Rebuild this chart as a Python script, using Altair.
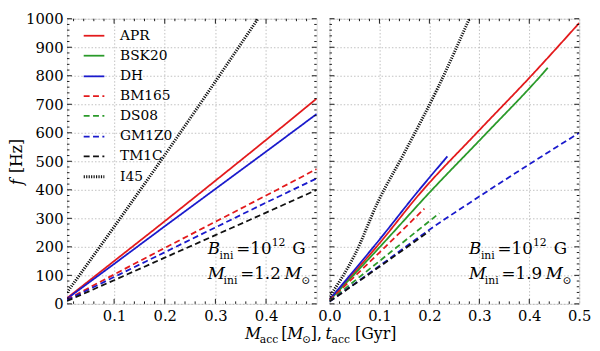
import altair as alt
import pandas as pd
import numpy as np

# ---------------- data ----------------
series_names = ["APR", "BSK20", "DH", "BM165", "DS08", "GM1Z0", "TM1C", "I45"]
series_colors = ["#e31a1c", "#2a9a2a", "#1a1acc", "#e31a1c", "#2a9a2a", "#1a1acc", "#111111", "#111111"]
series_styles = ["solid", "solid", "solid", "dashed", "dashed", "dashed", "dashed", "dotted"]

# Left panel: M_ini = 1.2 Msun, x = M_acc [Msun]
left_APR_m = [0.007, 0.1, 0.2, 0.3, 0.4, 0.5]
left_APR_f = [20, 150, 290, 432, 575, 720]
left_DH_m = [0.007, 0.1, 0.2, 0.3, 0.4, 0.5]
left_DH_f = [18, 140, 272, 403, 534, 666]
left_BM165_m = [0.007, 0.1, 0.2, 0.3, 0.4, 0.5]
left_BM165_f = [15, 103, 196, 288, 380, 473]
left_GM1Z0_m = [0.007, 0.1, 0.2, 0.3, 0.4, 0.5]
left_GM1Z0_f = [13, 94, 181, 268, 355, 440]
left_TM1C_m = [0.007, 0.1, 0.2, 0.3, 0.4, 0.5]
left_TM1C_f = [10, 83, 162, 241, 320, 400]
left_I45_m = [0.007, 0.1, 0.2, 0.3, 0.384]
left_I45_f = [40, 270, 522, 780, 1000]

# Right panel: M_ini = 1.9 Msun
right_APR_m = [0.0, 0.1, 0.18, 0.295, 0.404, 0.5]
right_APR_f = [15, 212, 385, 600, 800, 985]
right_DH_m = [0.0, 0.1, 0.175, 0.236]
right_DH_f = [15, 225, 390, 517]
right_BSK20_m = [0.0, 0.1, 0.2, 0.315, 0.423, 0.437]
right_BSK20_f = [12, 198, 390, 600, 800, 828]
right_BM165_m = [0.0, 0.1, 0.19]
right_BM165_f = [12, 180, 334]
right_DS08_m = [0.0, 0.1, 0.22]
right_DS08_f = [10, 150, 318]
right_GM1Z0_m = [0.0, 0.1, 0.2, 0.31, 0.5]
right_GM1Z0_f = [8, 133, 260, 388, 600]
right_TM1C_m = [0.0, 0.1, 0.2]
right_TM1C_f = [8, 130, 255]
right_I45_m = [0.0, 0.05, 0.098, 0.15, 0.217, 0.28]
right_I45_f = [25, 170, 361, 530, 758, 1000]

y_major = [0, 100, 200, 300, 400, 500, 600, 700, 800, 900, 1000]
left_x_labels = [0.1, 0.2, 0.3, 0.4]
right_x_labels = [0.0, 0.1, 0.2, 0.3, 0.4, 0.5]

# ---------------- layout ----------------
W, H = 254, 290
FONT = "DejaVu Serif"

line_names = series_names[:-1]
line_colors = series_colors[:-1]
line_dash = [[1, 0] if s == "solid" else [6, 3.5] for s in series_styles[:-1]]

AXIS_STYLE = dict(labelFont=FONT, labelFontSize=15, labelColor="black",
                  gridColor="#b0b0b0", gridDash=[1.5, 2], gridWidth=0.8,
                  grid=True, ticks=False, domain=False, title=None, labelFlush=False)


def build_df(d):
    rows = []
    for name, (ms, fs) in d.items():
        for i, (m, f) in enumerate(zip(ms, fs)):
            rows.append({"series": name, "m": m, "f": f, "i": i})
    return pd.DataFrame(rows)


def panel(data, xdomain, xlabels, x_major, x_minor, show_y, ann_m, mass_text, extra=None):
    xs = alt.Scale(domain=xdomain, nice=False, zero=False)
    ys = alt.Scale(domain=[0, 1000], nice=False, zero=False)
    x_axis = alt.Axis(values=xlabels, format=".1f", labelPadding=5, **AXIS_STYLE)
    y_axis = alt.Axis(values=y_major, format="d", labels=show_y, labelPadding=4, **AXIS_STYLE)

    def X(field):
        return alt.X(field, scale=xs, axis=x_axis)

    def Y(field):
        return alt.Y(field, scale=ys, axis=y_axis)

    df = build_df({k: v for k, v in data.items() if k != "I45"})
    lines = alt.Chart(df).mark_line(clip=True, strokeWidth=1.8, interpolate="monotone").encode(
        x=X("m:Q"), y=Y("f:Q"),
        color=alt.Color("series:N", scale=alt.Scale(domain=line_names, range=line_colors), legend=None),
        strokeDash=alt.StrokeDash("series:N", scale=alt.Scale(domain=line_names, range=line_dash), legend=None),
        order="i:Q",
    )
    i45 = build_df({"I45": data["I45"]})
    dotted = alt.Chart(i45).mark_line(clip=True, strokeWidth=3, strokeDash=[1.2, 1.3], color="#111111",
                                      interpolate="monotone").encode(
        x=X("m:Q"), y=Y("f:Q"), order="i:Q")
    layers = [lines, dotted]

    # inward ticks on all four sides
    y_minor = [v for v in range(20, 1000, 20) if v % 100 != 0]
    for vals, L in [(y_major, 5), (y_minor, 2.5)]:
        tdf = pd.DataFrame({"f": vals})
        base = alt.Chart(tdf).mark_rule(color="black", strokeWidth=0.9)
        layers.append(base.encode(y=Y("f:Q"), x=alt.value(0), x2=alt.value(L)))
        layers.append(base.encode(y=Y("f:Q"), x=alt.value(W - L), x2=alt.value(W)))
    for vals, L in [(x_major, 5), (x_minor, 2.5)]:
        tdf = pd.DataFrame({"m": vals})
        base = alt.Chart(tdf).mark_rule(color="black", strokeWidth=0.9)
        layers.append(base.encode(x=X("m:Q"), y=alt.value(H - L), y2=alt.value(H)))
        layers.append(base.encode(x=X("m:Q"), y=alt.value(0), y2=alt.value(L)))

    # annotation text anchored in data coordinates
    def piece(text, f, dx, dy, size, style="normal"):
        return alt.Chart(pd.DataFrame({"t": [text], "m": [ann_m], "f": [f]})).mark_text(
            font=FONT, fontSize=size, fontStyle=style, align="left", baseline="alphabetic",
            dx=dx, dy=dy, color="black").encode(text="t:N", x=X("m:Q"), y=Y("f:Q"))

    f1, f2 = 175, 86
    layers += [
        piece("B", f1, 0, 0, 17, "italic"),
        piece("ini", f1, 12, 5, 11),
        piece("=10", f1, 29, 0, 17),
        piece("12", f1, 65, -8, 11),
        piece("G", f1, 86, 0, 17),
        piece("M", f2, 0, 0, 17, "italic"),
        piece("ini", f2, 16, 5, 11),
        piece("=" + mass_text, f2, 33, 0, 17),
        piece("M", f2, 78, 0, 17, "italic"),
        piece("\u2299", f2, 95, 5, 11),
    ]
    if extra:
        layers += extra
    return alt.layer(*layers).properties(width=W, height=H)


def piece_px(text, x, y, size, style="normal", align="left", baseline="alphabetic", angle=0):
    kw = dict(font=FONT, fontSize=size, fontStyle=style, align=align, baseline=baseline, color="black")
    if angle:
        kw["angle"] = angle
    return alt.Chart(pd.DataFrame({"t": [text]})).mark_text(**kw).encode(
        text="t:N", x=alt.value(x), y=alt.value(y))


# legend (drawn inside left panel)
legend_layers = []
leg_y = [17.3, 37.6, 58.6, 78.7, 98.9, 119.8, 140, 160.8]
for name, col, sty, yy in zip(series_names, series_colors, series_styles, leg_y):
    if sty == "solid":
        mk = dict(strokeWidth=1.8)
    elif sty == "dashed":
        mk = dict(strokeWidth=1.8, strokeDash=[6, 3.5])
    else:
        mk = dict(strokeWidth=3, strokeDash=[1.2, 1.3])
    legend_layers.append(
        alt.Chart(pd.DataFrame({"s": [name]})).mark_rule(color=col, **mk).encode(
            x=alt.value(17), x2=alt.value(38), y=alt.value(yy)))
    legend_layers.append(piece_px(name, 54, yy, 14, baseline="middle"))

# y-axis title (rotated) and shared x-axis title
title_layers = [
    piece_px("f", -51, H / 2 + 24, 16, style="italic", baseline="middle", angle=270),
    piece_px("[Hz]", -51, H / 2 + 12, 16, baseline="middle", angle=270),
]
xb = H + 36
title_layers += [
    piece_px("M", 181, xb, 16, style="italic"),
    piece_px("acc", 196, xb + 4, 11),
    piece_px("[", 218, xb, 16),
    piece_px("M", 224, xb, 16, style="italic"),
    piece_px("\u2299", 239, xb + 4, 11),
    piece_px("],", 248, xb, 16),
    piece_px("t", 263, xb, 16, style="italic"),
    piece_px("acc", 269, xb + 4, 11),
    piece_px("[Gyr]", 293, xb, 16),
]

left_data = {
    "APR": (left_APR_m, left_APR_f),
    "DH": (left_DH_m, left_DH_f),
    "BM165": (left_BM165_m, left_BM165_f),
    "GM1Z0": (left_GM1Z0_m, left_GM1Z0_f),
    "TM1C": (left_TM1C_m, left_TM1C_f),
    "I45": (left_I45_m, left_I45_f),
}
right_data = {
    "APR": (right_APR_m, right_APR_f),
    "BSK20": (right_BSK20_m, right_BSK20_f),
    "DH": (right_DH_m, right_DH_f),
    "BM165": (right_BM165_m, right_BM165_f),
    "DS08": (right_DS08_m, right_DS08_f),
    "GM1Z0": (right_GM1Z0_m, right_GM1Z0_f),
    "TM1C": (right_TM1C_m, right_TM1C_f),
    "I45": (right_I45_m, right_I45_f),
}

x_minor = [round(v, 2) for v in np.arange(0.02, 0.5, 0.02) if round(v * 50) % 5 != 0]

left = panel(left_data, [0.007, 0.5], left_x_labels, [0.1, 0.2, 0.3, 0.4], x_minor,
             True, 0.285, "1.2", extra=legend_layers + title_layers)
right = panel(right_data, [0.0, 0.5], right_x_labels, [0.1, 0.2, 0.3, 0.4], x_minor,
              False, 0.2795, "1.9")

chart = alt.hconcat(left, right, spacing=13, bounds="flush").properties(
    padding={"left": 0, "top": 0, "right": 0, "bottom": 0}
).configure_view(stroke="black", strokeWidth=1.2).configure(background="white")

chart.save("out.html", embed_options={"renderer": "svg", "actions": False})
